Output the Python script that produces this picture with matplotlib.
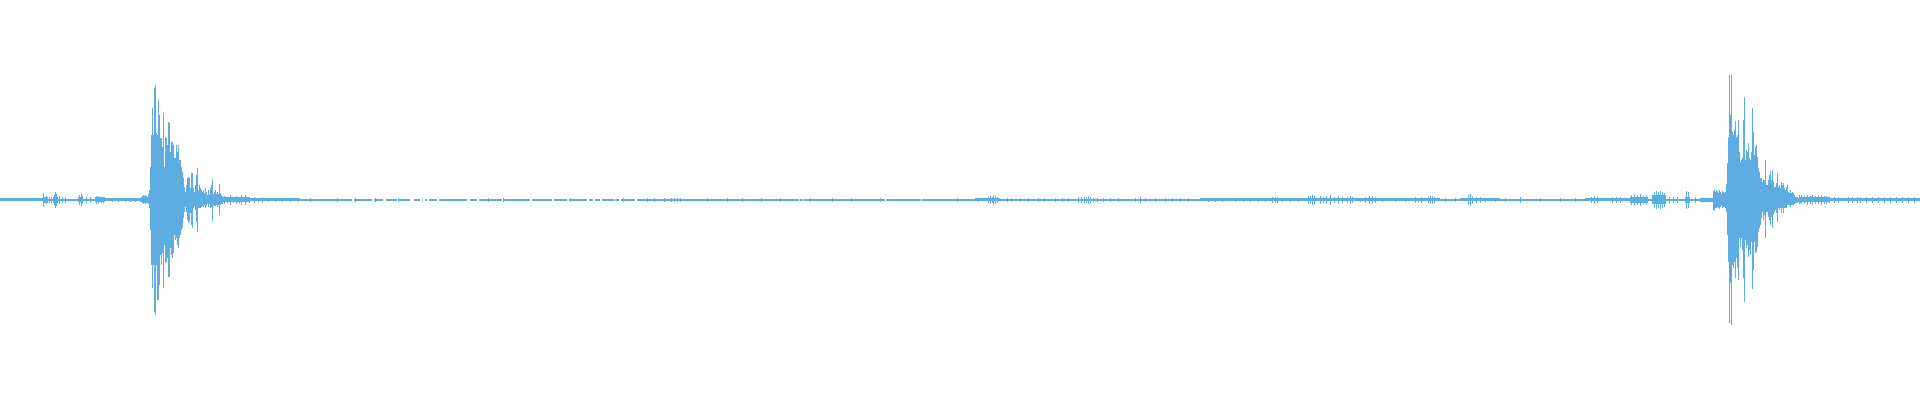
import numpy as np
import matplotlib
matplotlib.use("Agg")
import matplotlib.pyplot as plt

# waveform, one value per pixel column, amplitude in px from centre
WAVE_COLOR = "#5DADE2"
N_COLS = 1920

burst1_start = 140
burst1_top = [2, 3, 4, 5, 4, 5, 4, 3, 6, 10,
              33, 65, 92, 65, 112, 115, 67, 65, 100, 85,
              62, 62, 53, 87, 33, 63, 62, 55, 78, 77,
              48, 58, 58, 55, 42, 42, 55, 48, 55, 40,
              40, 33, 28, 22, 13, 8, 15, 22, 23, 22,
              12, 27, 27, 12, 8, 15, 25, 32, 10, 15,
              12, 10, 8, 10, 7, 12, 8, 5, 10, 5,
              12, 15, 21, 6, 8, 10, 6, 8, 6, 16,
              7, 5, 4]
burst1_bot = [2, 2, 3, 4, 3, 4, 3, 3, 4, 8,
              30, 65, 88, 65, 112, 115, 65, 100, 100, 85,
              55, 65, 53, 88, 45, 63, 62, 58, 77, 77,
              48, 55, 58, 53, 35, 40, 38, 45, 48, 38,
              35, 30, 28, 18, 12, 7, 12, 20, 23, 22,
              13, 25, 28, 8, 6, 10, 22, 32, 8, 8,
              8, 7, 6, 7, 5, 8, 6, 4, 7, 4,
              8, 7, 21, 5, 6, 6, 5, 7, 5, 15,
              5, 4, 4]

burst2_start = 1713
burst2_top = [9, 10, 8, 10, 9, 7, 10, 8, 6, 9,
              8, 7, 8, 16, 37, 63, 125, 85, 125, 68,
              65, 70, 79, 63, 65, 80, 48, 38, 40, 42,
              80, 103, 40, 50, 48, 57, 42, 40, 48, 92,
              68, 45, 53, 55, 43, 32, 28, 22, 22, 18,
              20, 20, 40, 15, 15, 20, 25, 29, 20, 30,
              18, 13, 13, 17, 27, 13, 15, 12, 18, 15,
              17, 12, 10, 13, 15, 8, 7, 10, 7, 8,
              7, 5, 3, 3, 3, 2, 5, 3, 5]
burst2_bot = [10, 11, 8, 8, 7, 8, 9, 7, 6, 8,
              7, 7, 8, 12, 35, 62, 123, 83, 125, 65,
              68, 62, 78, 58, 68, 80, 38, 47, 38, 50,
              78, 102, 40, 48, 45, 57, 50, 55, 42, 89,
              70, 42, 53, 52, 47, 32, 28, 25, 18, 12,
              20, 15, 38, 12, 12, 17, 20, 25, 17, 28,
              14, 12, 10, 13, 22, 8, 10, 8, 13, 8,
              13, 8, 8, 8, 5, 5, 5, 7, 5, 5,
              5, 4, 3, 3, 3, 2, 4, 3, 4]

# low-level noise floor: start col, end col, amplitude
noise_x0 = [0, 43, 53, 78, 95, 105, 222, 250, 300,
            975, 1035, 1130, 1200, 1320, 1460, 1585,
            1630, 1652, 1685, 1700, 1801, 1830]
noise_x1 = [43, 48, 58, 83, 105, 140, 250, 300, 340,
            1000, 1125, 1190, 1320, 1440, 1500, 1630,
            1648, 1666, 1690, 1713, 1830, 1920]
noise_amp = [1.2, 3, 3, 2.5, 2.5, 1.3, 2.5, 1.8, 1,
             1.5, 1, 1, 1.3, 1.8, 1.5, 1.5,
             3, 4.5, 3, 2, 2.5, 1.8]

# single column spikes: col, amplitude
spike_x = [43, 46, 49, 51, 54, 55, 56, 59, 62, 65, 79, 81, 82, 86, 90,
           96, 98, 101, 103, 112, 118, 125, 130, 135,
           224, 227, 230, 233, 236, 239, 241, 245, 249, 254, 258, 262, 268,
           275, 282, 290, 298, 310, 337, 355, 375, 398, 488, 503, 570,
           623, 647, 654, 664, 671, 674, 677, 680, 707, 727, 742, 761, 780,
           810, 832, 851, 880, 957,
           978, 988, 990, 992, 993, 995, 997, 1007, 1011, 1020, 1028, 1038,
           1044, 1055, 1062, 1068, 1078, 1081, 1084, 1086, 1088, 1090, 1093,
           1097, 1103, 1110, 1118, 1135, 1140, 1145, 1155, 1165, 1172, 1180,
           1188, 1208, 1215, 1222, 1235, 1243, 1250, 1258, 1265, 1272, 1275,
           1277, 1282, 1290, 1298, 1308, 1310, 1312, 1314, 1320, 1323, 1326,
           1330, 1334, 1338, 1342, 1347, 1350, 1352, 1360, 1365, 1369, 1372,
           1375, 1382, 1395, 1405, 1415, 1418, 1421, 1428, 1430, 1432, 1434,
           1445, 1455, 1468, 1470, 1472, 1476, 1480, 1485, 1495, 1505, 1520,
           1540, 1560, 1575, 1591, 1594, 1597, 1612, 1616, 1620,
           1631, 1634, 1637, 1640, 1643, 1646, 1654, 1656, 1658, 1660, 1662,
           1664, 1669, 1673, 1677, 1686, 1688, 1695, 1702,
           1804, 1807, 1810, 1812, 1815, 1818, 1821, 1824, 1826, 1829,
           1834, 1838, 1848, 1852, 1857, 1860, 1866, 1872, 1878, 1884,
           1890, 1896, 1902, 1908, 1914]
spike_amp = [7, 4, 3, 3, 5, 8, 6, 4, 3, 3, 5, 6, 4, 3, 3,
             4, 4, 3, 3, 2, 2, 2, 2, 2,
             4, 3, 5, 3, 4, 3, 5, 5, 3, 3, 2, 3, 2,
             2, 2, 2, 2, 2, 2, 2, 2, 2, 2, 2, 2,
             2, 2, 2, 2, 2, 2, 2, 2, 2, 2, 2, 2, 2,
             2, 2, 2, 2, 2,
             2, 3, 4, 3, 5, 4, 3, 2, 2, 2, 2, 2,
             2, 2, 2, 2, 3, 3, 3, 3, 4, 3, 2,
             2, 2, 2, 2, 2, 3, 2, 2, 2, 2, 2,
             2, 2, 2, 2, 2, 2, 2, 2, 2, 3, 3,
             3, 2, 2, 2, 4, 4, 5, 4, 4, 3, 4,
             5, 3, 4, 3, 3, 4, 3, 2, 3, 4, 4,
             3, 2, 2, 2, 3, 2, 3, 3, 4, 4, 3,
             2, 2, 5, 6, 4, 3, 3, 2, 2, 2, 3,
             2, 2, 2, 3, 4, 3, 3, 3, 3,
             5, 6, 5, 6, 4, 5, 8, 9, 8, 9, 8,
             7, 3, 3, 3, 9, 8, 3, 3,
             4, 5, 4, 5, 4, 4, 5, 4, 4, 3,
             3, 3, 3, 3, 3, 3, 3, 3, 3, 3,
             3, 3, 3, 3, 3]

# places where the quiet trace drops out completely
gap_x0 = [352, 372, 383, 397, 410, 420, 423, 427, 437, 467, 477, 502, 530,
          552, 567, 587, 593, 600, 614, 619, 635, 799, 803, 885, 921]
gap_x1 = [354, 374, 386, 398, 414, 422, 425, 429, 439, 470, 479, 504, 532,
          554, 569, 589, 595, 602, 615, 621, 637, 800, 804, 886, 922]


fig = plt.figure(figsize=(19.2, 4), dpi=100)
ax = fig.add_axes([0, 0, 1, 1])
ax.set_xlim(0, N_COLS)
ax.set_ylim(-200, 200)
ax.axis("off")

# quiet trace, broken where there are gaps
edges = [0] + [v for pair in zip(gap_x0, gap_x1) for v in pair] + [N_COLS]
segs = [(edges[i], edges[i + 1] - edges[i]) for i in range(0, len(edges), 2)]
ax.broken_barh(segs, (-0.5, 1.8), facecolors=WAVE_COLOR, linewidth=0)

# noise floor stretches
nx0 = np.array(noise_x0)
nw = np.array(noise_x1) - nx0
na = np.array(noise_amp)
ax.bar(nx0, 2 * na, bottom=-na + 0.5, width=nw, align="edge",
       color=WAVE_COLOR, linewidth=0)

# spikes
sa = np.array(spike_amp)
ax.bar(spike_x, 2 * sa, bottom=-sa + 0.5, width=1, align="edge",
       color=WAVE_COLOR, linewidth=0)

# the two big bursts
for start, top, bot in [(burst1_start, burst1_top, burst1_bot),
                        (burst2_start, burst2_top, burst2_bot)]:
    top = np.array(top)
    bot = np.array(bot)
    cols = start + np.arange(len(top))
    ax.bar(cols, top + bot, bottom=-bot + 0.5, width=1, align="edge",
           color=WAVE_COLOR, linewidth=0)

fig.savefig("out.png", dpi=100, facecolor="white")
